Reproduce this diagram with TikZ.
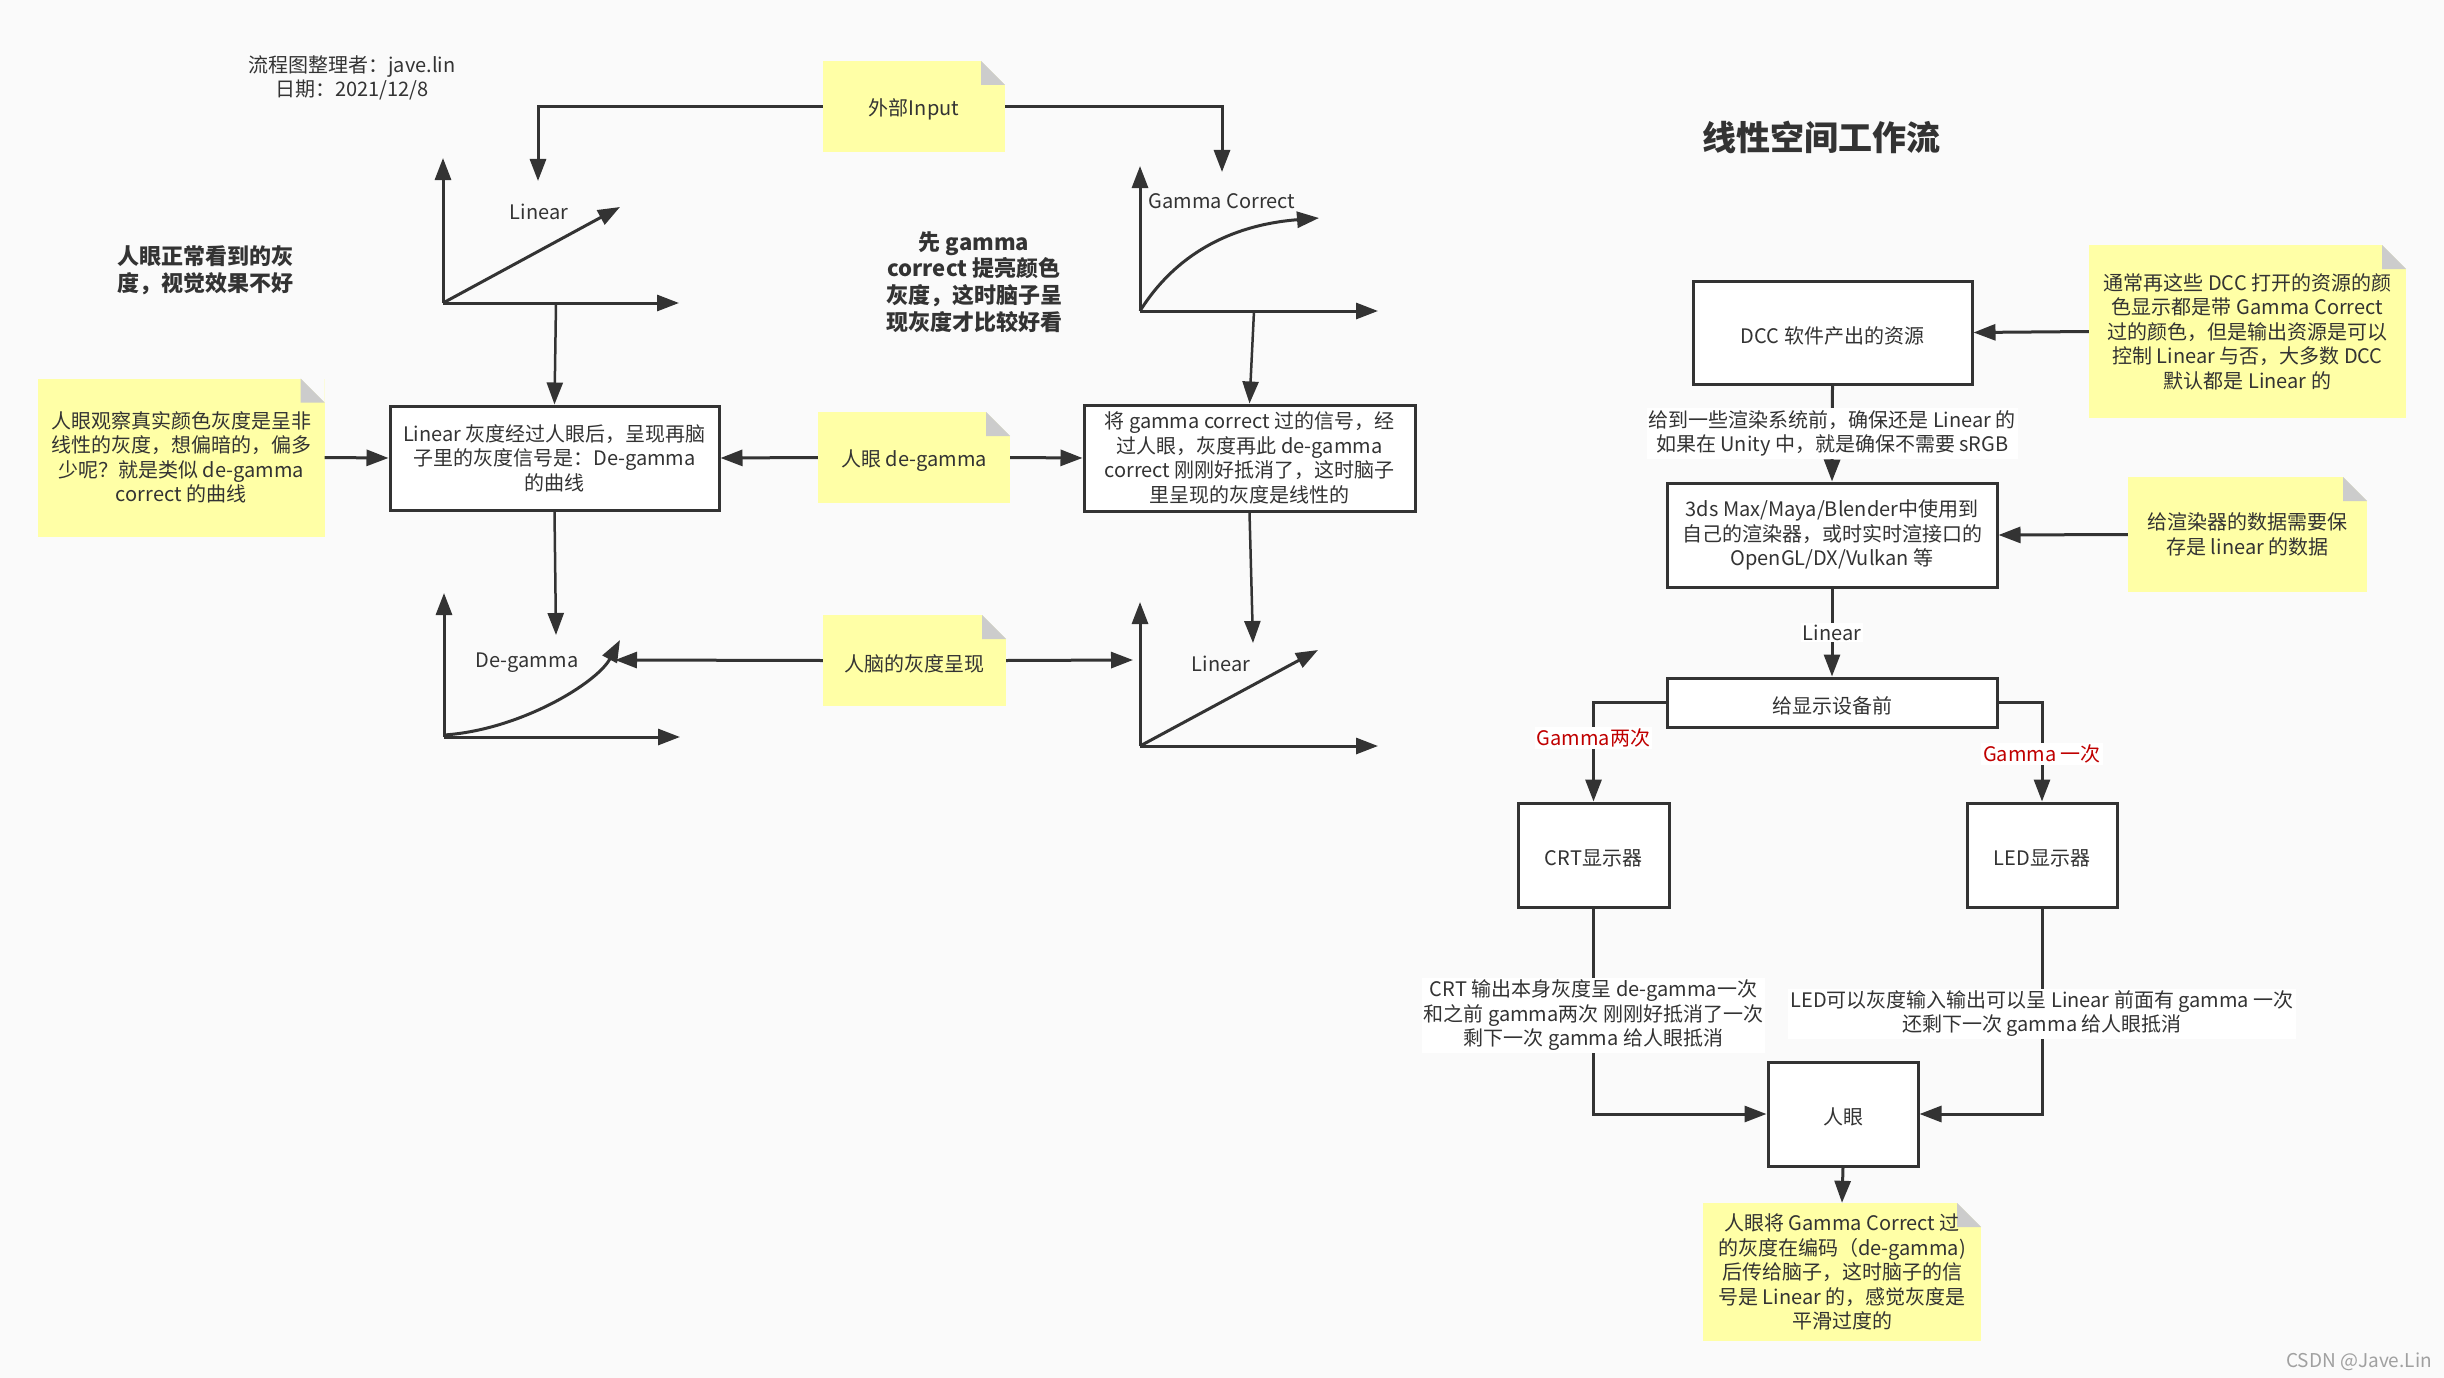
\documentclass[tikz,border=0pt]{standalone}
\usepackage{fontspec}
\setmainfont{Noto Sans CJK SC}
\usetikzlibrary{arrows.meta}
\definecolor{bgcol}{HTML}{FAFAFA}
\definecolor{linecol}{HTML}{333333}
\definecolor{txtcol}{HTML}{333333}
\definecolor{noteyellow}{HTML}{FFFFA6}
\definecolor{foldgray}{HTML}{CCCCCC}
\definecolor{redtxt}{HTML}{C00000}
\definecolor{wmgray}{HTML}{A0A0A0}
\newcommand\TopStrut{\rule{0pt}{23.5pt}}
\begin{document}
\begin{tikzpicture}[x=1pt,y=-1pt,
 every node/.style={font=\fontsize{20}{24.5}\selectfont, text=txtcol},
 box/.style={draw=linecol, line width=3pt, fill=white, align=center, inner sep=0pt, execute at begin node=\TopStrut},
 note/.style={fill=noteyellow, align=center, inner sep=0pt, execute at begin node=\TopStrut,
   path picture={
     \fill[bgcol] (path picture bounding box.north east) -- ++(-24pt,0pt) -- ++(24pt,-24pt) -- cycle;
     \fill[foldgray] ([xshift=-24pt]path picture bounding box.north east) -- ++(24pt,-24pt) -- ++(-24pt,0pt) -- cycle;
   }},
 conn/.style={draw=linecol, line width=3pt, -{Triangle[length=22pt,width=16pt]}},
 thinconn/.style={draw=linecol, line width=2.5pt, -{Triangle[length=22pt,width=16pt]}},
 axisline/.style={draw=linecol, line width=3pt, -{Triangle[length=22pt,width=16pt]}},
 elabel/.style={fill=white, align=center, inner sep=2pt},
 boldtxt/.style={font=\fontsize{22}{26.7}\selectfont\bfseries, align=center},
]
\fill[bgcol] (0,0) rectangle (2444,1378);
\useasboundingbox (0,0) rectangle (2444,1378);

% ---------- left part ----------
\node[align=center] (author) at (352,78) {流程图整理者：jave.lin\\日期：2021/12/8};
\node[note, minimum width=182pt, minimum height=91pt] (inp) at (914,106.5) {外部Input};

\node[boldtxt] (t1) at (205,270) {人眼正常看到的灰\\度，视觉效果不好};
\node[boldtxt] (t2) at (974,282) {先 gamma\\correct 提亮颜色\\灰度，这时脑子呈\\现灰度才比较好看};

% graph 1 (Linear)
\coordinate (g1o) at (443,303);
\coordinate (g1y) at (443,158);
\coordinate (g1x) at (679,303);
\coordinate (g1e) at (620,207);
\coordinate (g1in) at (538,181);
\coordinate (g1out) at (556,303);
\draw[axisline] (g1o) -- (g1y);
\draw[axisline] (g1o) -- (g1x);
\draw[axisline] (g1o) -- (g1e);
\node (g1l) at (539,212) {Linear};

% graph 2 (Gamma Correct)
\coordinate (g2o) at (1140,311);
\coordinate (g2y) at (1140,166);
\coordinate (g2x) at (1378,311);
\coordinate (g2e) at (1319,218);
\coordinate (g2in) at (1222,172);
\coordinate (g2out) at (1254,311);
\draw[axisline] (g2o) -- (g2y);
\draw[axisline] (g2o) -- (g2x);
\draw[axisline] (g2o) .. controls (1175,255) and (1230,225) .. (g2e);
\node (g2l) at (1222,201) {Gamma Correct};

% graph 3 (De-gamma)
\coordinate (g3o) at (444,737);
\coordinate (g3y) at (444,593);
\coordinate (g3x) at (680,737);
\coordinate (g3c) at (444,735);
\coordinate (g3e) at (620,640);
\coordinate (g3in) at (556,635);
\coordinate (g3arr) at (615,660);
\draw[axisline] (g3o) -- (g3y);
\draw[axisline] (g3o) -- (g3x);
\draw[axisline] (g3c) .. controls (520,730) and (597,683) .. (g3e);
\node (g3l) at (527,663) {De-gamma};

% graph 4 (Linear)
\coordinate (g4o) at (1140,746);
\coordinate (g4y) at (1140,602);
\coordinate (g4x) at (1378,746);
\coordinate (g4e) at (1318,650);
\coordinate (g4in) at (1253,643);
\coordinate (g4arr) at (1133,660);
\draw[axisline] (g4o) -- (g4y);
\draw[axisline] (g4o) -- (g4x);
\draw[axisline] (g4o) -- (g4e);
\node (g4l) at (1221,664) {Linear};

\node[note, minimum width=287pt, minimum height=158pt] (leftnote) at (181,457.5)
  {人眼观察真实颜色灰度是呈非\\线性的灰度，想偏暗的，偏多\\少呢？就是类似 de-gamma\\correct 的曲线};
\node[box, minimum width=329pt, minimum height=104pt] (b1) at (554.5,458)
  {Linear 灰度经过人眼后，呈现再脑\\子里的灰度信号是：De-gamma\\的曲线};
\node[note, minimum width=192pt, minimum height=91pt] (deg) at (914,457.5) {人眼 de-gamma};
\node[box, minimum width=331pt, minimum height=106pt] (b2) at (1249.5,458)
  {将 gamma correct 过的信号，经\\过人眼，灰度再此 de-gamma\\correct 刚刚好抵消了，这时脑子\\里呈现的灰度是线性的};
\node[note, minimum width=183pt, minimum height=91pt] (brain) at (914.5,660.5) {人脑的灰度呈现};

\draw[conn] (inp.west) -| (g1in);
\draw[conn] (inp.east) -| (g2in);
\draw[thinconn] (g1out) -- (b1.north);
\draw[thinconn] (g2out) -- (b2.north);
\draw[thinconn] (b1.south) -- (g3in);
\draw[thinconn] (b2.south) -- (g4in);
\draw[conn] (leftnote.east) -- (b1.west);
\draw[conn] (deg.west) -- (b1.east);
\draw[conn] (deg.east) -- (b2.west);
\draw[conn] (brain.west) -- (g3arr);
\draw[conn] (brain.east) -- (g4arr);

% ---------- right part ----------
\node[font=\fontsize{34}{40}\selectfont\bfseries] (title) at (1821,137) {线性空间工作流};
\node[box, minimum width=279pt, minimum height=103pt] (dcc) at (1832.5,332.5) {DCC 软件产出的资源};
\node[note, minimum width=317pt, minimum height=173pt] (n1) at (2247.5,331.5)
  {通常再这些 DCC 打开的资源的颜\\色显示都是带 Gamma Correct\\过的颜色，但是输出资源是可以\\控制 Linear 与否，大多数 DCC\\默认都是 Linear 的};
\node[box, minimum width=330pt, minimum height=104pt] (max) at (1832,535)
  {3ds Max/Maya/Blender中使用到\\自己的渲染器，或时实时渲接口的\\OpenGL/DX/Vulkan 等};
\node[note, minimum width=239pt, minimum height=115pt] (n2) at (2247.5,534.5)
  {给渲染器的数据需要保\\存是 linear 的数据};
\node[box, minimum width=330pt, minimum height=49pt] (disp) at (1832,702.5) {给显示设备前};
\node[box, minimum width=151pt, minimum height=104pt] (crt) at (1593.5,855) {CRT显示器};
\node[box, minimum width=150pt, minimum height=104pt] (led) at (2042,855) {LED显示器};
\node[box, minimum width=150pt, minimum height=104pt] (eye) at (1843,1114) {人眼};
\node[note, minimum width=278pt, minimum height=138pt] (n3) at (1842,1272)
  {人眼将 Gamma Correct 过\\的灰度在编码（de-gamma)\\后传给脑子，这时脑子的信\\号是 Linear 的，感觉灰度是\\平滑过度的};

\draw[conn] (n1.west) -- (dcc.east);
\draw[conn] (dcc.south) -- node[elabel] {给到一些渲染系统前，确保还是 Linear 的\\如果在 Unity 中，就是确保不需要 sRGB} (max.north);
\draw[conn] (n2.west) -- (max.east);
\draw[conn] (max.south) -- node[elabel] {Linear} (disp.north);
\draw[conn] (disp.east) -| node[elabel, pos=0.76, text=redtxt] {Gamma 一次} (led.north);
\draw[conn] (disp.west) -| node[elabel, pos=0.68, text=redtxt] {Gamma两次} (crt.north);
\draw[conn] (crt.south) |- node[elabel, pos=0.26] {CRT 输出本身灰度呈 de-gamma一次\\和之前 gamma两次 刚刚好抵消了一次\\剩下一次 gamma 给人眼抵消} (eye.west);
\draw[conn] (led.south) |- node[elabel, pos=0.256] {LED可以灰度输入输出可以呈 Linear 前面有 gamma 一次\\还剩下一次 gamma 给人眼抵消} (eye.east);
\draw[conn] (eye.south) -- (n3.north);

\node[text=wmgray, font=\fontsize{19}{22}\selectfont] (wm) at (2359,1362) {CSDN @Jave.Lin};
\end{tikzpicture}
\end{document}
